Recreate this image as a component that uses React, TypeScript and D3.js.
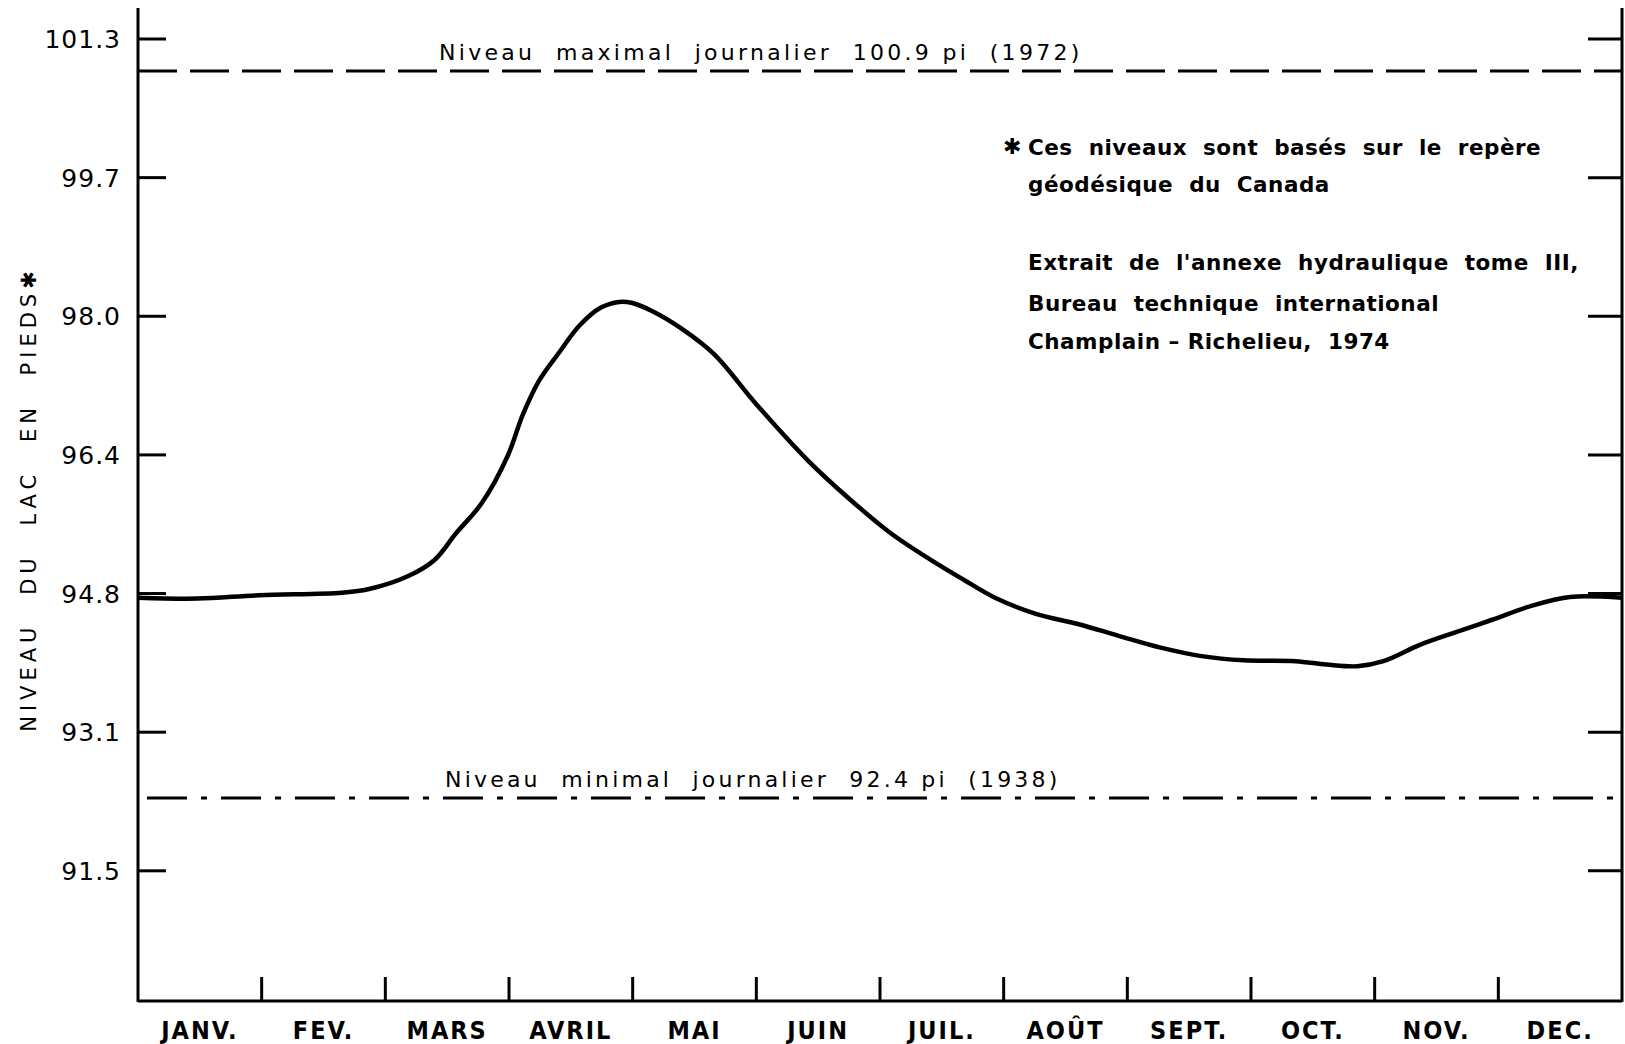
import * as d3 from 'd3'

const WIDTH = 1625
const HEIGHT = 1044
const PLOT = { left: 138, right: 1622, top: 39, bottom: 1001, axisTop: 8 }

const MONTH_LABELS = ['JANV.', 'FEV.', 'MARS', 'AVRIL', 'MAI', 'JUIN', 'JUIL.', 'AOÛT', 'SEPT.', 'OCT.', 'NOV.', 'DEC.']

// tick positions are metric grid lines (27.9 m ... 30.9 m) labelled in feet
const Y_TICK_VALUES = [101.38, 99.74, 98.1, 96.46, 94.82, 93.18, 91.54]
const Y_TICK_LABELS = ['101.3', '99.7', '98.0', '96.4', '94.8', '93.1', '91.5']

// mean daily lake level, month index (0 = Jan 1) vs feet
const LEVEL_MONTH = [0, 0.48, 0.98, 1.65, 1.86, 2.19, 2.4, 2.57, 2.78, 2.99, 3.11, 3.24, 3.41, 3.57, 3.74, 3.89, 3.99, 4.16, 4.41, 4.66, 5.0, 5.42, 5.76, 6.09, 6.43, 6.68, 6.93, 7.26, 7.6, 7.93, 8.27, 8.6, 8.94, 9.36, 9.61, 9.86, 10.07, 10.36, 10.61, 10.95, 11.28, 11.58, 12]
const LEVEL_FEET = [94.77, 94.76, 94.8, 94.83, 94.87, 95.03, 95.22, 95.53, 95.89, 96.45, 96.93, 97.33, 97.68, 97.99, 98.2, 98.27, 98.26, 98.16, 97.94, 97.65, 97.06, 96.39, 95.93, 95.53, 95.2, 94.98, 94.77, 94.58, 94.46, 94.32, 94.18, 94.08, 94.03, 94.02, 93.98, 93.96, 94.02, 94.21, 94.34, 94.51, 94.68, 94.78, 94.77]

const MAX_LEVEL = 101.0
const MIN_LEVEL = 92.4
const MAX_LABEL = 'Niveau  maximal  journalier  100.9 pi  (1972)'
const MIN_LABEL = 'Niveau  minimal  journalier  92.4 pi  (1938)'

const NOTE_LINES = [
  'Ces  niveaux  sont  basés  sur  le  repère',
  'géodésique  du  Canada',
  '',
  "Extrait  de  l'annexe  hydraulique  tome  III,",
  'Bureau  technique  international',
  'Champlain – Richelieu,  1974',
]
const NOTE_BASELINES = [155, 192, 0, 270, 311, 349]

const FONT = "'DejaVu Sans', 'Noto Sans', sans-serif"
const COND = "'DejaVu Sans Condensed', 'Liberation Sans Narrow', 'DejaVu Sans', sans-serif"

export default function App() {
  const x = d3.scaleLinear().domain([0, 12]).range([PLOT.left, PLOT.right])
  const y = d3.scaleLinear().domain([90.0, 101.38]).range([PLOT.bottom, PLOT.top])

  const points = LEVEL_MONTH.map((m, i) => [m, LEVEL_FEET[i]] as [number, number])
  const line = d3
    .line<[number, number]>()
    .x((d) => x(d[0]))
    .y((d) => y(d[1]))
    .curve(d3.curveCatmullRom.alpha(0.5))

  const monthTicks = d3.range(1, 12)

  return (
    <svg
      width={WIDTH}
      height={HEIGHT}
      viewBox={`0 0 ${WIDTH} ${HEIGHT}`}
      style={{ position: 'absolute', left: 0, top: 0, background: '#fff' }}
    >
      <rect width={WIDTH} height={HEIGHT} fill="#fff" />

      {/* axes frame */}
      <line x1={PLOT.left} x2={PLOT.left} y1={PLOT.axisTop} y2={PLOT.bottom + 1} stroke="#000" strokeWidth={3} />
      <line x1={PLOT.right} x2={PLOT.right} y1={PLOT.axisTop} y2={PLOT.bottom + 1} stroke="#000" strokeWidth={3} />
      <line x1={PLOT.left} x2={PLOT.right} y1={PLOT.bottom} y2={PLOT.bottom} stroke="#000" strokeWidth={3} />

      {/* y ticks, both sides */}
      {Y_TICK_VALUES.map((v, i) => (
        <g key={v}>
          <line x1={PLOT.left} x2={PLOT.left + 28} y1={y(v)} y2={y(v)} stroke="#000" strokeWidth={3} />
          <line x1={PLOT.right - 34} x2={PLOT.right} y1={y(v)} y2={y(v)} stroke="#000" strokeWidth={3} />
          <text
            x={PLOT.left - 17}
            y={y(v) + 9}
            textAnchor="end"
            fontFamily={FONT}
            fontSize={25}
            letterSpacing={1}
          >
            {Y_TICK_LABELS[i]}
          </text>
        </g>
      ))}

      {/* month ticks and labels */}
      {monthTicks.map((m) => (
        <line key={m} x1={x(m)} x2={x(m)} y1={PLOT.bottom} y2={PLOT.bottom - 24} stroke="#000" strokeWidth={3} />
      ))}
      {MONTH_LABELS.map((label, i) => (
        <text
          key={label}
          x={x(i + 0.5)}
          y={PLOT.bottom + 38}
          textAnchor="middle"
          fontFamily={COND}
          fontWeight="bold"
          fontSize={25}
          letterSpacing={2}
        >
          {label}
        </text>
      ))}

      {/* y axis title */}
      <text
        transform={`translate(36, 499) rotate(-90)`}
        textAnchor="middle"
        fontFamily={FONT}
        fontSize={21}
        letterSpacing={5}
        wordSpacing={16}
        style={{ whiteSpace: 'pre' }}
      >
        NIVEAU DU LAC EN PIEDS✱
      </text>

      {/* record levels */}
      <line
        x1={PLOT.left}
        x2={PLOT.right}
        y1={y(MAX_LEVEL)}
        y2={y(MAX_LEVEL)}
        stroke="#000"
        strokeWidth={3}
        strokeDasharray="39 13"
      />
      <text x={439} y={y(MAX_LEVEL) - 11} fontFamily={FONT} fontSize={22} letterSpacing={3.3} style={{ whiteSpace: 'pre' }}>
        {MAX_LABEL}
      </text>
      <line
        x1={PLOT.left + 9}
        x2={PLOT.right}
        y1={y(MIN_LEVEL)}
        y2={y(MIN_LEVEL)}
        stroke="#000"
        strokeWidth={3}
        strokeDasharray="40 14 6 14"
      />
      <text x={445} y={y(MIN_LEVEL) - 11} fontFamily={FONT} fontSize={22} letterSpacing={3.2} style={{ whiteSpace: 'pre' }}>
        {MIN_LABEL}
      </text>

      {/* mean level curve */}
      <path d={line(points) ?? undefined} fill="none" stroke="#000" strokeWidth={4.5} strokeLinejoin="round" />

      {/* notes */}
      <text x={1003} y={NOTE_BASELINES[0] - 1} fontFamily={FONT} fontSize={22}>
        ✱
      </text>
      {NOTE_LINES.map((t, i) =>
        t ? (
          <text
            key={i}
            x={1028}
            y={NOTE_BASELINES[i]}
            fontFamily={FONT}
            fontWeight="bold"
            fontSize={21.5}
            letterSpacing={0.5}
            style={{ whiteSpace: 'pre' }}
          >
            {t}
          </text>
        ) : null,
      )}
    </svg>
  )
}
